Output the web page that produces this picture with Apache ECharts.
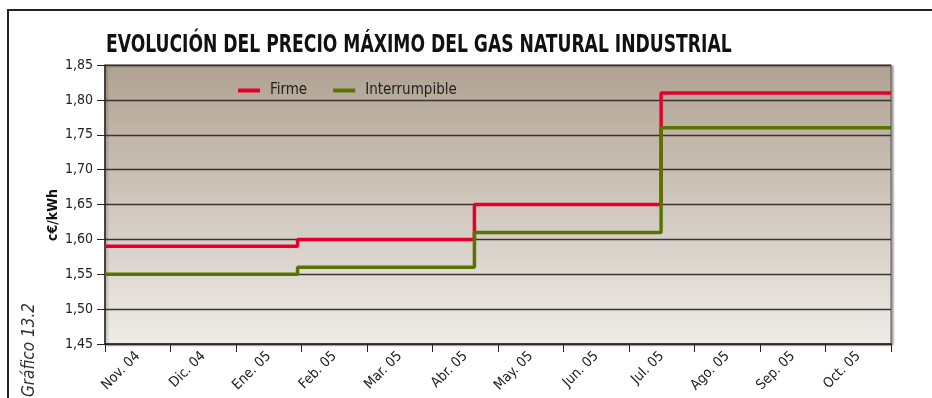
<!DOCTYPE html>
<html>
<head>
<meta charset="utf-8">
<script src="https://cdn.jsdelivr.net/npm/echarts@6/dist/echarts.min.js"></script>
<style>
  html, body { margin: 0; padding: 0; background: #ffffff; }
  #chart { width: 932px; height: 398px; }
</style>
</head>
<body>
<div id="chart"></div>
<script>
// Month labels along the bottom axis
var months = ['Nov. 04', 'Dic. 04', 'Ene. 05', 'Feb. 05', 'Mar. 05', 'Abr. 05',
              'May. 05', 'Jun. 05', 'Jul. 05', 'Ago. 05', 'Sep. 05', 'Oct. 05'];

// Positions (in months from the start of Nov. 04) where the price changes
var stepMonths = [0, 2.94, 5.64, 8.49, 12];

// Maximum price, c€/kWh, in force from each change position
var firme = [1.59, 1.60, 1.65, 1.81, 1.81];
var interrumpible = [1.55, 1.56, 1.61, 1.76, 1.76];

// Value axis ticks
var yMin = 1.45, yMax = 1.85, yStep = 0.05;

var FONT = '"Liberation Sans Narrow", "DejaVu Sans Condensed", "Arial Narrow", sans-serif';

function pairs(xs, ys) {
  return xs.map(function (x, i) { return [x, ys[i]]; });
}

var chart = echarts.init(document.getElementById('chart'), null, { renderer: 'canvas' });

chart.setOption({
  animation: false,
  backgroundColor: '#ffffff',
  legend: {
    left: 233,
    top: 78,
    itemWidth: 22,
    itemHeight: 4,
    itemGap: 26,
    icon: 'rect',
    textStyle: { fontFamily: FONT, fontSize: 15, color: '#222222', padding: [0, 0, 0, 5] },
    data: ['Firme', 'Interrumpible']
  },
  grid: {
    left: 105,
    right: 41,
    top: 65,
    bottom: 54,
    show: true,
    borderWidth: 1,
    borderColor: '#5e5651',
    shadowColor: 'rgba(0,0,0,0.35)',
    shadowBlur: 2,
    shadowOffsetX: 2,
    shadowOffsetY: 1,
    backgroundColor: new echarts.graphic.LinearGradient(0, 0, 0, 1, [
      { offset: 0, color: '#b0a292' },
      { offset: 1, color: '#efece8' }
    ])
  },
  xAxis: [
    {
      type: 'category',
      data: months,
      boundaryGap: true,
      axisLine: { lineStyle: { color: '#2a2523', width: 1.5 } },
      axisTick: { show: true, length: 8, lineStyle: { color: '#2a2523' } },
      axisLabel: {
        interval: 0,
        rotate: 45,
        margin: 10,
        fontFamily: FONT,
        fontSize: 14,
        color: '#222222'
      },
      splitLine: { show: false }
    },
    {
      type: 'value',
      min: 0,
      max: 12,
      show: false
    }
  ],
  yAxis: {
    type: 'value',
    min: yMin,
    max: yMax,
    interval: yStep,
    axisLine: { show: true, lineStyle: { color: '#2a2523', width: 1.5 } },
    axisTick: { show: true, length: 8, lineStyle: { color: '#2a2523' } },
    axisLabel: {
      margin: 12,
      fontFamily: FONT,
      fontSize: 14,
      color: '#222222',
      formatter: function (v) { return v.toFixed(2).replace('.', ','); }
    },
    splitLine: { show: true, lineStyle: { color: '#3a3330', width: 1.3 } }
  },
  series: [
    {
      name: 'Firme',
      type: 'line',
      xAxisIndex: 1,
      step: 'end',
      symbol: 'none',
      data: pairs(stepMonths, firme),
      lineStyle: { color: '#e4002b', width: 3.5 },
      itemStyle: { color: '#e4002b' },
      z: 3
    },
    {
      name: 'Interrumpible',
      type: 'line',
      xAxisIndex: 1,
      step: 'end',
      symbol: 'none',
      data: pairs(stepMonths, interrumpible),
      lineStyle: { color: '#587400', width: 3.5 },
      itemStyle: { color: '#587400' },
      z: 4
    }
  ],
  graphic: [
    // frame around the figure
    {
      type: 'polyline',
      shape: { points: [[8, 398], [8, 10], [932, 10]] },
      style: { stroke: '#222222', lineWidth: 2, fill: null },
      silent: true
    },
    // heading, set in a narrowed bold face
    {
      type: 'text',
      x: 106,
      y: 34,
      scaleX: 0.795,
      style: {
        text: 'EVOLUCIÓN DEL PRECIO MÁXIMO DEL GAS NATURAL INDUSTRIAL',
        font: 'bold 24px ' + FONT,
        fill: '#111111',
        textAlign: 'left',
        textVerticalAlign: 'top'
      },
      silent: true
    },
    // unit of the value axis
    {
      type: 'text',
      x: 53,
      y: 215,
      rotation: Math.PI / 2,
      style: {
        text: 'c€/kWh',
        font: 'bold 14px ' + FONT,
        fill: '#111111',
        textAlign: 'center',
        textVerticalAlign: 'middle'
      },
      silent: true
    },
    {
      type: 'text',
      x: 30,
      y: 350,
      rotation: Math.PI / 2,
      style: {
        text: 'Gráfico 13.2',
        font: 'italic 17px ' + FONT,
        fill: '#333333',
        textAlign: 'center',
        textVerticalAlign: 'middle'
      },
      silent: true
    }
  ]
});
</script>
</body>
</html>
